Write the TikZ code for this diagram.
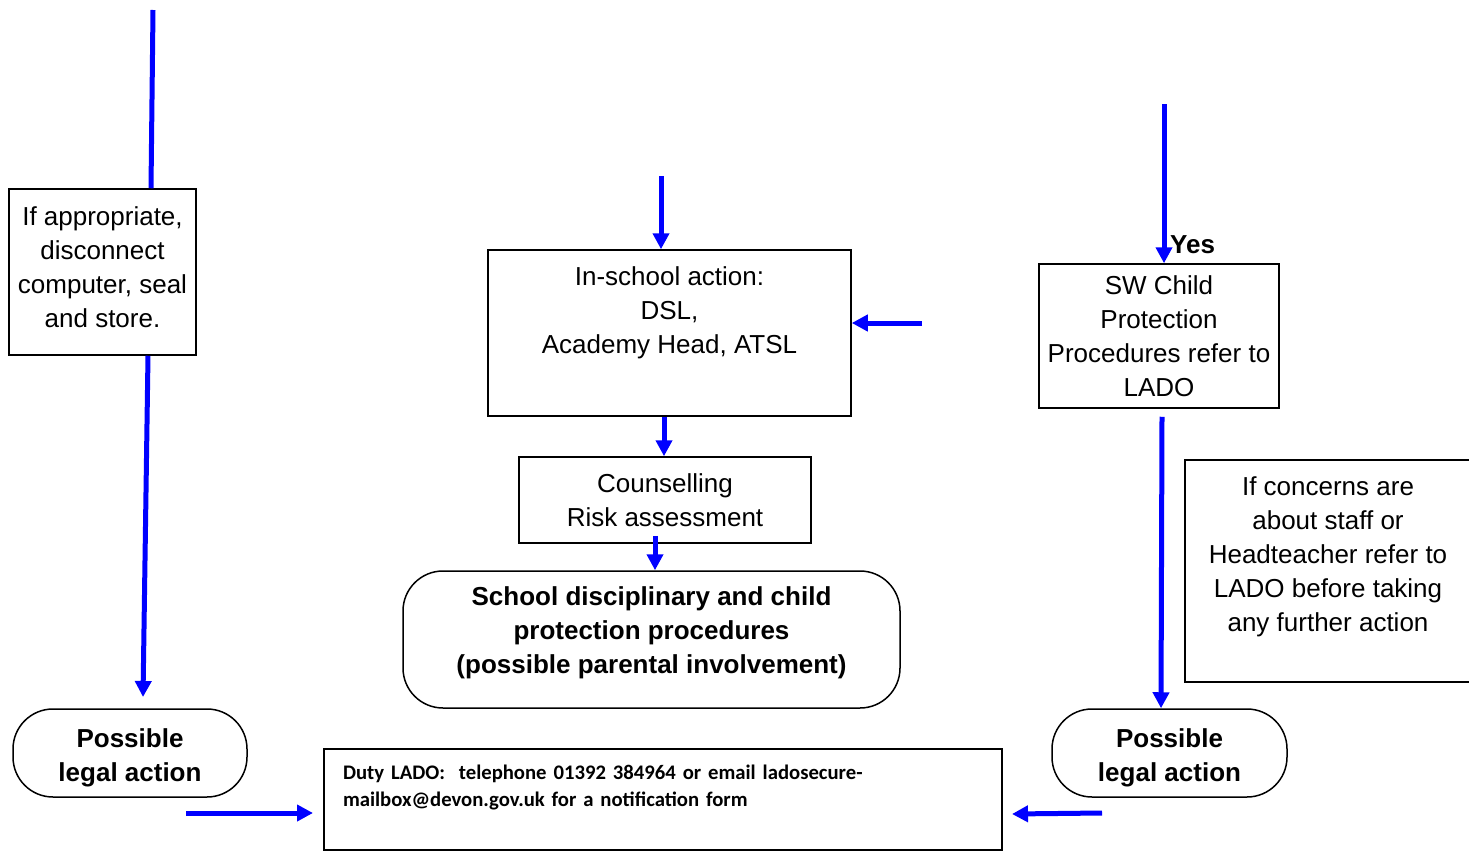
\documentclass[tikz,border=0pt]{standalone}
\usepackage{fontspec}
\setmainfont{Liberation Sans}
\newfontfamily\calibfont{Carlito}
\usetikzlibrary{arrows.meta}

\begin{document}
\begin{tikzpicture}[x=1pt, y=-1pt,
    every node/.style={font=\fontsize{26}{34}\selectfont, align=center, inner sep=0pt},
    box/.style={draw, line width=1.5pt},
    roundbox/.style={draw, line width=1.5pt, rounded corners=40pt, font=\fontsize{26}{34}\selectfont\bfseries},
    wire/.style={draw=blue, line width=5pt},
    arr/.style={wire, -{Triangle[length=16pt, width=16pt]}}]

  \useasboundingbox (0,0) rectangle (1469,851);

  % boxes
  \node[box, minimum width=187pt, minimum height=166pt] (store) at (102.5,272)
    {If appropriate,\\disconnect\\computer, seal\\and store.\\[-24pt]~};
  \node[box, minimum width=363pt, minimum height=166pt] (inschool) at (669.5,333)
    {In-school action:\\DSL,\\Academy Head, ATSL\\[12pt]~};
  \node[box, minimum width=292pt, minimum height=86pt] (counsel) at (665,500)
    {Counselling\\Risk assessment};
  \node[roundbox, minimum width=497pt, minimum height=137pt] (procs) at (651.5,639.5)
    {School disciplinary and child\\protection procedures\\(possible parental involvement)\\[-16pt]~};
  \node[box, minimum width=240pt, minimum height=144pt] (sw) at (1159,336)
    {SW Child\\Protection\\Procedures refer to\\LADO};
  \node[box, minimum width=286pt, minimum height=222pt] (note) at (1328,571)
    {If concerns are\\about staff or\\Headteacher refer to\\LADO before taking\\any further action\\~};
  \node[roundbox, minimum width=234pt, minimum height=88pt] (legalL) at (130,753)
    {~\\[-5pt]Possible\\legal action};
  \node[roundbox, minimum width=235pt, minimum height=88pt] (legalR) at (1169.5,753)
    {~\\[-5pt]Possible\\legal action};
  \node[box, minimum width=678pt, minimum height=101pt, text width=640pt, align=left,
        font=\calibfont\bfseries\fontsize{20.7}{27}\selectfont] (lado) at (663,799.5)
    {Duty LADO:\ \ telephone 01392 384964 or email ladosecure-\\mailbox@devon.gov.uk for a notification form\\~};
  \node[anchor=west, font=\fontsize{26}{34}\selectfont\bfseries] (yes) at (1170,245) {Yes};

  % free ends
  \coordinate (topL) at (153,10);
  \coordinate (tipL) at (143,697);
  \coordinate (topM) at (661,176);
  \coordinate (sideM) at (922,323);
  \coordinate (topR) at (1164,104);
  \coordinate (fromL) at (186,813);
  \coordinate (toL) at (313,813);
  \coordinate (fromR) at (1102,813);
  \coordinate (toR) at (1012,814);

  % left column
  \draw[wire] (topL) -- ([xshift=48.5pt]store.north);
  \draw[arr] ([xshift=45.5pt]store.south) -- (tipL);

  % middle column
  \draw[arr] (topM) -- (topM |- inschool.north);
  \draw[arr] (sideM) -- (sideM -| inschool.east);
  \draw[arr] ([xshift=-5.5pt]inschool.south) -- ([xshift=-1pt]counsel.north);
  \draw[arr] ([xshift=-10pt, yshift=8pt]counsel.south) -- ([xshift=3.5pt]procs.north);

  % right column
  \draw[arr] (topR) -- (topR |- sw.north);
  \draw[arr] ([xshift=3pt, yshift=-8pt]sw.south) -- ([xshift=-8.5pt]legalR.north);

  % into the LADO box
  \draw[arr] (fromL) -- (toL);
  \draw[arr] (fromR) -- (toR);

\end{tikzpicture}
\end{document}
